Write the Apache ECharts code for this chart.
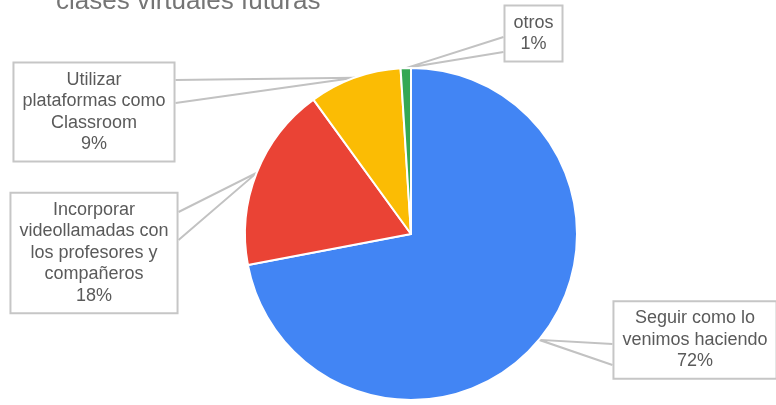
<!DOCTYPE html>
<html>
<head>
<meta charset="utf-8">
<script src="https://cdn.jsdelivr.net/npm/echarts@6/dist/echarts.min.js"></script>
<style>html,body{margin:0;padding:0;background:#fff;}#c{width:776px;height:405px;}</style>
</head>
<body>
<div id="c"></div>
<script>
const titleText = 'clases virtuales futuras';
const categories = [
  'Seguir como lo\nvenimos haciendo',
  'Incorporar\nvideollamadas con\nlos profesores y\ncompañeros',
  'Utilizar\nplataformas como\nClassroom',
  'otros'
];
const values = [72, 18, 9, 1];
const colors = ['#4285F4', '#EA4335', '#FBBC04', '#34A853'];

// label box layout (centre, which side the leader attaches, attach y's)
const boxLayout = [
  {cx: 695, cy: 340, side: 'left', y1: 344, y2: 365},
  {cx: 94, cy: 253, side: 'right', y1: 212, y2: 240},
  {cx: 94, cy: 112, side: 'right', y1: 80, y2: 103},
  {cx: 533.5, cy: 33.5, side: 'left', y1: 37, y2: 52}
];

const chart = echarts.init(document.getElementById('c'));
chart.setOption({
  animation: false,
  title: {
    text: titleText, left: 51, top: -16,
    textStyle: {fontSize: 26, fontWeight: 'normal', color: '#757575', fontFamily: 'Liberation Sans, Arial, sans-serif'}
  },
  series: [{
    type: 'pie',
    center: [411, 234],
    radius: [0, 166],
    startAngle: 90,
    clockwise: true,
    avoidLabelOverlap: false,
    itemStyle: {borderColor: '#fff', borderWidth: 2},
    data: categories.map((c, i) => ({name: c, value: values[i], itemStyle: {color: colors[i]}})),
    label: {
      show: true,
      position: 'outside',
      formatter: '{b}\n{d}%',
      fontFamily: 'Liberation Sans, Arial, sans-serif',
      fontSize: 18,
      lineHeight: 21.5,
      color: '#5a5a5a',
      align: 'center',
      backgroundColor: '#fff',
      borderColor: '#c6c6c6',
      borderWidth: 2,
      padding: [6, 8, 5, 8]
    },
    labelLine: {show: true, lineStyle: {color: '#c2c2c2', width: 2}},
    labelLayout: function (p) {
      const b = boxLayout[p.dataIndex];
      const w = p.labelRect.width;
      const ex = b.side === 'left' ? b.cx - w / 2 : b.cx + w / 2;
      const s = p.labelLinePoints ? p.labelLinePoints[0] : [ex, b.y1];
      return {
        x: b.cx, y: b.cy, align: 'center', verticalAlign: 'middle',
        labelLinePoints: [[ex, b.y1], [s[0], s[1]], [ex, b.y2]]
      };
    }
  }]
});
</script>
</body>
</html>
